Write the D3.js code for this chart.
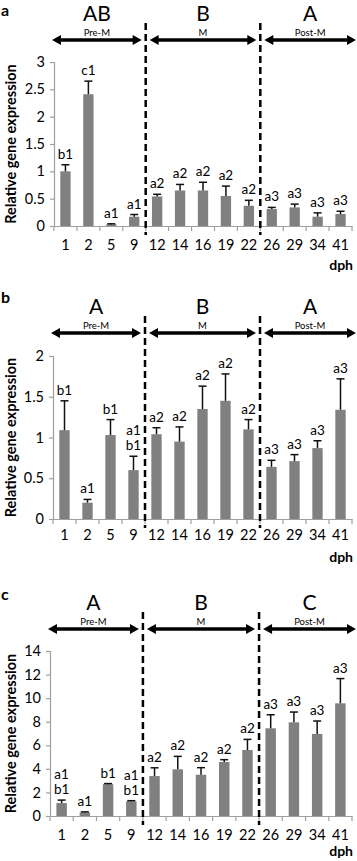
<!DOCTYPE html>
<html>
<head>
<meta charset="utf-8">
<script src="https://cdn.jsdelivr.net/npm/d3@7"></script>
<style>
  body { margin: 0; background: #fff; }
  svg { display: block; font-family: Lato, 'Liberation Sans', sans-serif; }
</style>
</head>
<body>
<svg width="357" height="861"></svg>
<script>
const days = ['1', '2', '5', '9', '12', '14', '16', '19', '22', '26', '29', '34', '41']
const phases = ['Pre-M', 'M', 'Post-M']
const phaseStart = [0, 4, 9]
const phaseEnd = [4, 9, 13]

const groupsA = ['AB', 'B', 'A']
const meanA = [1.0, 2.41, 0.03, 0.17, 0.54, 0.65, 0.65, 0.55, 0.37, 0.31, 0.34, 0.17, 0.22]
const errA = [0.12, 0.24, 0.01, 0.04, 0.04, 0.11, 0.15, 0.18, 0.1, 0.03, 0.06, 0.07, 0.05]
const letA = ['b1', 'c1', 'a1', 'a1', 'a2', 'a2', 'a2', 'a2', 'a2', 'a3', 'a3', 'a3', 'a3']
const ticksA = [0, 0.5, 1, 1.5, 2, 2.5, 3]

const groupsB = ['A', 'B', 'A']
const meanB = [1.09, 0.2, 1.03, 0.6, 1.04, 0.95, 1.35, 1.45, 1.1, 0.64, 0.71, 0.87, 1.34]
const errB = [0.36, 0.04, 0.19, 0.17, 0.08, 0.18, 0.28, 0.33, 0.12, 0.08, 0.08, 0.09, 0.38]
const letB = ['b1', 'a1', 'b1', 'a1 b1', 'a2', 'a2', 'a2', 'a2', 'a2', 'a3', 'a3', 'a3', 'a3']
const ticksB = [0, 0.5, 1, 1.5, 2]

const groupsC = ['A', 'B', 'C']
const meanC = [1.1, 0.3, 2.7, 1.25, 3.39, 3.96, 3.5, 4.58, 5.6, 7.44, 7.95, 6.96, 9.56]
const errC = [0.25, 0.05, 0.05, 0.05, 0.7, 1.1, 0.6, 0.2, 0.9, 1.15, 0.87, 1.1, 2.1]
const letC = ['a1 b1', 'a1', 'b1', 'a1 b1', 'a2', 'a2', 'a2', 'a2', 'a2', 'a3', 'a3', 'a3', 'a3']
const ticksC = [0, 2, 4, 6, 8, 10, 12, 14]

const svg = d3.select('svg')

const render = (p) => {
  const g = svg.append('g')

  const xScale = d3.scaleBand()
    .domain(days)
    .range([p.x0, 352])
    .paddingInner(0.55)
    .paddingOuter(0.275)
  const step = xScale.step()
  const edge = i => p.x0 + step * i

  const yScale = d3.scaleLinear()
    .domain([0, d3.max(p.ticks)])
    .range([p.y0, p.y1])

  // y axis
  const yAxis = d3.axisLeft(yScale)
    .tickValues(p.ticks)
    .tickFormat(d => String(d))
    .tickSize(4)
    .tickPadding(5)
  const yg = g.append('g')
    .attr('transform', `translate(${p.x0},0)`)
    .call(yAxis)
  yg.selectAll('.domain, .tick line').attr('stroke', '#a0a0a0').attr('stroke-width', 1.2)
  yg.selectAll('.tick text').attr('font-size', 14.5).attr('font-family', 'Lato').attr('fill', '#000')

  // x axis
  const xAxis = d3.axisBottom(xScale).tickSize(0).tickPadding(p.labPad)
  const xg = g.append('g')
    .attr('transform', `translate(0,${p.y0})`)
    .call(xAxis)
  xg.select('.domain').attr('stroke', '#a0a0a0').attr('stroke-width', 1.2)
  xg.selectAll('.tick text').attr('font-size', 14.5).attr('font-family', 'Lato').attr('fill', '#000')
  g.append('g').selectAll('line')
    .data(d3.range(days.length + 1))
    .join('line')
    .attr('x1', edge).attr('x2', edge)
    .attr('y1', p.y0).attr('y2', p.y0 + 5)
    .attr('stroke', '#a0a0a0').attr('stroke-width', 1.2)

  g.append('text')
    .attr('x', 353).attr('y', p.y0 + p.dphY)
    .attr('text-anchor', 'end')
    .attr('font-size', 14).attr('font-weight', 'bold')
    .text('dph')

  // bars
  const data = days.map((d, i) => ({ day: d, v: p.mean[i], e: p.err[i], lab: p.lets[i] }))
  g.append('g').selectAll('rect')
    .data(data)
    .join('rect')
    .attr('x', d => xScale(d.day))
    .attr('width', xScale.bandwidth())
    .attr('y', d => yScale(d.v))
    .attr('height', d => p.y0 - yScale(d.v))
    .attr('fill', '#808080')

  const eb = g.append('g').attr('stroke', '#111').attr('stroke-width', 1.5)
  const cx = d => xScale(d.day) + xScale.bandwidth() / 2
  eb.selectAll('.v').data(data).join('line').attr('class', 'v')
    .attr('x1', cx).attr('x2', cx)
    .attr('y1', d => yScale(d.v)).attr('y2', d => yScale(d.v + d.e))
  eb.selectAll('.c').data(data).join('line').attr('class', 'c')
    .attr('x1', d => cx(d) - 4).attr('x2', d => cx(d) + 4)
    .attr('y1', d => yScale(d.v + d.e)).attr('y2', d => yScale(d.v + d.e))

  // significance letters
  const lt = g.append('g').attr('font-size', 13.5).attr('text-anchor', 'middle').attr('fill', '#000')
  data.forEach(d => {
    const lines = d.lab.split(' ')
    lines.forEach((s, k) => {
      lt.append('text')
        .attr('x', cx(d))
        .attr('y', yScale(d.v + d.e) - 6 - (lines.length - 1 - k) * 15)
        .text(s)
    })
  })

  // dashed separators
  ;[4, 9].forEach(i => {
    g.append('line')
      .attr('x1', edge(i)).attr('x2', edge(i))
      .attr('y1', p.top + p.arrowY - 17).attr('y2', p.y0 + 9)
      .attr('stroke', '#000').attr('stroke-width', 2.5)
      .attr('stroke-dasharray', '7,4')
  })

  // phase arrows
  const ay = p.top + p.arrowY
  phases.forEach((ph, k) => {
    const xa = (k === 0 ? p.x0 : edge(phaseStart[k])) + (k === 0 ? -2 : 4)
    const xb = (k === 2 ? 356 : edge(phaseEnd[k]) - 4)
    g.append('line')
      .attr('x1', xa + 6).attr('x2', xb - 6)
      .attr('y1', ay).attr('y2', ay)
      .attr('stroke', '#000').attr('stroke-width', 3.5)
    g.append('path')
      .attr('d', `M${xa},${ay}L${xa + 9},${ay - 5}L${xa + 9},${ay + 5}Z`)
    g.append('path')
      .attr('d', `M${xb},${ay}L${xb - 9},${ay - 5}L${xb - 9},${ay + 5}Z`)
    const mid = (xa + xb) / 2
    g.append('text')
      .attr('x', mid).attr('y', ay - 4)
      .attr('text-anchor', 'middle')
      .attr('font-size', 9.5)
      .text(ph)
    g.append('text')
      .attr('x', mid).attr('y', ay - 19)
      .attr('text-anchor', 'middle')
      .attr('font-size', 21)
      .text(p.groups[k])
  })

  // panel letter
  g.append('text')
    .attr('x', 1).attr('y', p.letterY)
    .attr('font-size', 16).attr('font-weight', 'bold')
    .text(p.panel)

  // y axis title
  g.append('text')
    .attr('transform', `translate(16,${(p.y0 + p.y1) / 2}) rotate(-90)`)
    .attr('text-anchor', 'middle')
    .attr('font-size', 14.5).attr('font-weight', 'bold')
    .text('Relative gene expression')
}

render({ panel: 'a', top: 0, arrowY: 40, letterY: 16, dphY: 44, x0: 54, y0: 226, y1: 62, labPad: 14,
  ticks: ticksA, mean: meanA, err: errA, lets: letA, groups: groupsA })
render({ panel: 'b', top: 281, arrowY: 52, letterY: 303, dphY: 43, x0: 53, y0: 519, y1: 356, labPad: 11,
  ticks: ticksB, mean: meanB, err: errB, lets: letB, groups: groupsB })
render({ panel: 'c', top: 574, arrowY: 55, letterY: 600, dphY: 40, x0: 50, y0: 816, y1: 651, labPad: 14,
  ticks: ticksC, mean: meanC, err: errC, lets: letC, groups: groupsC })
</script>
</body>
</html>
